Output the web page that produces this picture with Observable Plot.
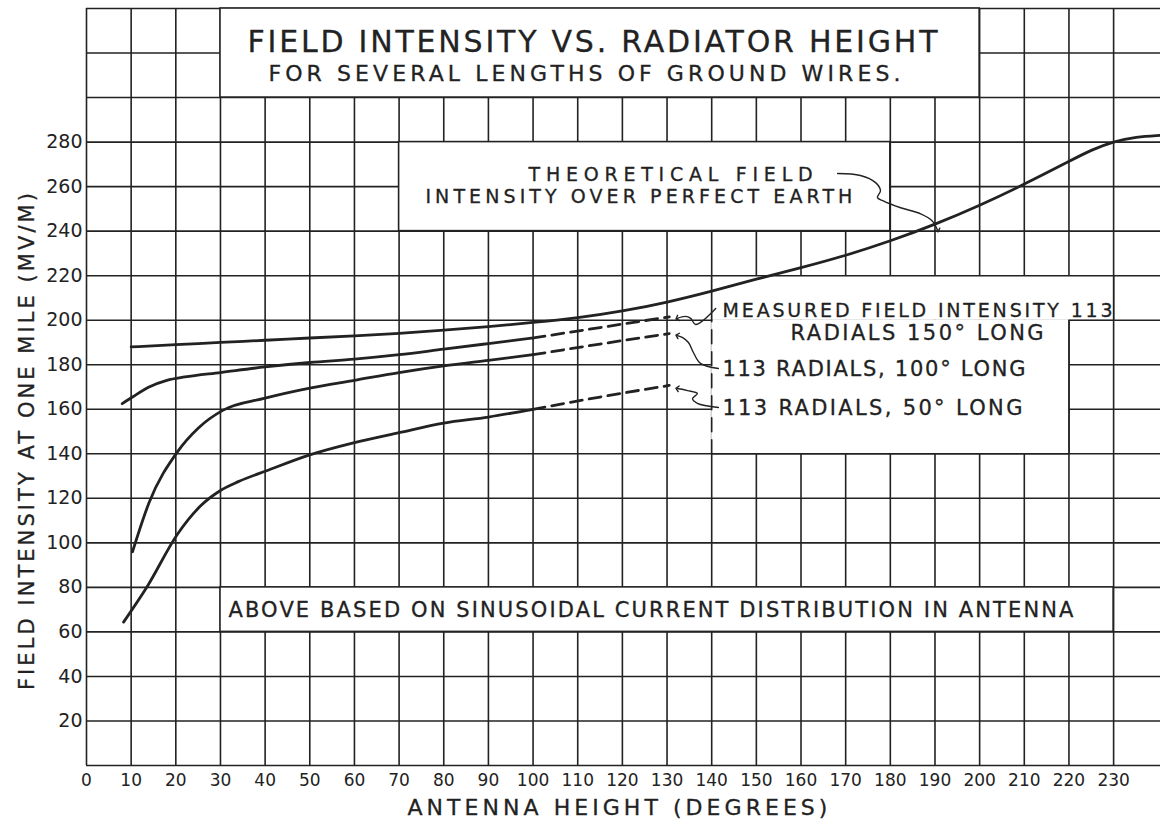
<!DOCTYPE html>
<html><head><meta charset="utf-8">
<script src="https://cdn.jsdelivr.net/npm/d3@7"></script>
<script src="https://cdn.jsdelivr.net/npm/@observablehq/plot@0.6"></script>
<style>
body{margin:0;background:#fff;}
svg text{font-family:"DejaVu Sans",sans-serif;}
</style></head><body><div id="chart"></div>
<script>
// ---- tick labels / grid ----
const xTicks = [0,10,20,30,40,50,60,70,80,90,100,110,120,130,140,150,160,170,180,190,200,210,220,230];
const yTicks = [20,40,60,80,100,120,140,160,180,200,220,240,260,280];
const xGrid = [0,10,20,30,40,50,60,70,80,90,100,110,120,130,140,150,160,170,180,190,200,210,220,230];
const yGrid = [0,20,40,60,80,100,120,140,160,180,200,220,240,260,280,300,320,340];

// ---- series ----
const theoX = [10,20,30,40,50,60,70,80,90,100,110,120,130,140,150,160,170,180,190,200,210,220,225,230,235,240.5];
const theoY = [188,189,190,191,192,193,194,195.5,197,199,201,204,208,213,218.5,223.5,229,235.5,243,251.5,261,271.3,276.5,280.3,282.3,283];

const r150X = [8,10.3,14,18,22,30,40,50,60,70,80,90,100];
const r150Y = [162.5,165.5,170,173,174.5,176.5,179,181,182.5,184.5,187,189.5,192];
const r150DashX = [100,115,130.5];
const r150DashY = [192,196.7,201.5];

const r100X = [10.3,14,20.4,25,30.5,40,50,60,70,80,90,100];
const r100Y = [96,118,141,151.5,159.5,165,169.5,173,176.5,179.5,182,184.5];
const r100DashX = [100,115,130.5];
const r100DashY = [184.5,189.3,194];

const r50X = [8.3,13.6,20.4,25.5,30,34,40.5,50,60,70,80,90,100];
const r50Y = [64.4,80.4,104,116.5,123.5,127.5,132.5,139.5,145,149.5,153.8,156.5,160];
const r50DashX = [100,115,130.5];
const r50DashY = [160,165.5,170.7];

// ---- annotation boxes (data units) ----
const boxes = [
  {x1:30, x2:200, y1:300, y2:340},
  {x1:70, x2:180, y1:240, y2:280},
  {x1:30, x2:230, y1:60,  y2:80},
  {x1:140,x2:230, y1:200, y2:220},
  {x1:140,x2:220, y1:140, y2:200}
];
const lBoxSolid = [[140,200],[140,220],[230,220],[230,200],[220,200],[220,140],[140,140]];
const lBoxDashed = [[140,140],[140,200]];

// ---- leader arrows ----
const arrowTheo = [[168.2,265.9],[173.3,265.0],[176.7,261.8],[177.8,258.2],[177.1,255.1],[178.3,253.7],[182.3,250.5],[186.8,247.8],[189.4,244.6],[190.6,240.3]];
const arrow150 = [[140.9,205.3],[136.4,198.1],[135.3,200.8],[134.1,201.7],[132.3,200.8]];
const arrow100 = [[141.5,178.3],[137.5,180.6],[135.9,185.5],[134.8,190.0],[133.5,192.2],[132.3,193.1]];
const arrow50  = [[141.5,160.8],[136.8,162.6],[135.7,164.8],[136.8,167.1],[134.6,168.4],[132.3,169.3]];

// ---- texts ----
const notes = [
  {text:"FIELD INTENSITY VS. RADIATOR HEIGHT", x:113.3, y:324.7, size:30, w:690, anchor:"middle"},
  {text:"FOR SEVERAL LENGTHS OF GROUND WIRES.", x:111.5, y:310.8, size:22, w:632, anchor:"middle"},
  {text:"THEORETICAL FIELD", x:130.8, y:265.4, size:19, w:284, anchor:"middle"},
  {text:"INTENSITY OVER PERFECT EARTH", x:123.7, y:255.6, size:19, w:427, anchor:"middle"},
  {text:"MEASURED FIELD INTENSITY 113", x:186.1, y:204.4, size:19, w:390, anchor:"middle"},
  {text:"RADIALS 150° LONG", x:186.0, y:194.0, size:21, w:253, anchor:"middle"},
  {text:"113 RADIALS, 100° LONG", x:142.4, y:177.9, size:21, w:303, anchor:"start"},
  {text:"113 RADIALS, 50° LONG", x:142.4, y:160.3, size:21, w:300, anchor:"start"},
  {text:"ABOVE BASED ON SINUSOIDAL CURRENT DISTRIBUTION IN ANTENNA", x:126.4, y:69.6, size:21, w:845, anchor:"middle"},
  {text:"ANTENNA HEIGHT (DEGREES)", x:118.9, y:-18.9, size:22, w:420, anchor:"middle"}
];
const yLabel = {text:"FIELD INTENSITY AT ONE MILE (MV/M)", x:-13.2, y:145.5, size:21, w:497};

const ink = "#222";
const pts = (X, Y) => X.map((x, i) => ({x, y: Y[i]}));
const pp = (arr) => arr.map(([x, y]) => ({x, y}));

const solid = (X, Y, curve = "monotone-x") => Plot.line(pts(X, Y), {x:"x", y:"y", stroke:ink, strokeWidth:2.8, curve});
const dashed = (X, Y) => Plot.line(pts(X, Y), {x:"x", y:"y", stroke:ink, strokeWidth:2.8, curve:"monotone-x", strokeDasharray:"12,7"});
const leader = (arr) => Plot.line(pp(arr), {x:"x", y:"y", stroke:ink, strokeWidth:1.4, curve:"catmull-rom", markerEnd:"arrow"});

const chart = Plot.plot({
  width: 1160, height: 824,
  marginLeft: 86, marginRight: 0, marginTop: 8, marginBottom: 59,
  x: {domain: [0, 240.5]},
  y: {domain: [0, 340]},
  style: {background: "#fff", color: ink, fontFamily: "DejaVu Sans, sans-serif", overflow: "visible"},
  marks: [
    Plot.ruleX(xGrid, {stroke: ink, strokeWidth: 1.6}),
    Plot.ruleY(yGrid, {stroke: ink, strokeWidth: 1.6}),
    Plot.rect(boxes, {x1:"x1", x2:"x2", y1:"y1", y2:"y2", fill:"white"}),
    Plot.rect(boxes.slice(0, 3), {x1:"x1", x2:"x2", y1:"y1", y2:"y2", fill:"none", stroke:ink, strokeWidth:1.6}),
    Plot.line(pp(lBoxSolid), {x:"x", y:"y", stroke:ink, strokeWidth:1.6}),
    Plot.line(pp(lBoxDashed), {x:"x", y:"y", stroke:ink, strokeWidth:1.6, strokeDasharray:"14,8"}),
    solid(theoX, theoY, "basis"),
    solid(r150X, r150Y), dashed(r150DashX, r150DashY),
    solid(r100X, r100Y), dashed(r100DashX, r100DashY),
    solid(r50X, r50Y), dashed(r50DashX, r50DashY),
    leader(arrowTheo), leader(arrow150), leader(arrow100), leader(arrow50),
    ...notes.map(n => Plot.text([n], {x:"x", y:"y", text:"text", fontSize:n.size, textAnchor:n.anchor, fill:ink, stroke:ink, strokeWidth:0.3})),
    Plot.text([yLabel], {x:"x", y:"y", text:"text", fontSize:yLabel.size, rotate:-90, textAnchor:"middle", fill:ink, stroke:ink, strokeWidth:0.3}),
    Plot.axisX({ticks: xTicks, tickSize: 0, tickPadding: 8, fontSize: 17, label: null, tickFormat: d => String(d)}),
    Plot.axisY({ticks: yTicks, tickSize: 0, tickPadding: 4, fontSize: 19, label: null, tickFormat: d => String(d)})
  ]
});

// fit hand-lettered text widths
const widths = new Map([...notes, yLabel].map(n => [n.text, n.w]));
d3.select(chart).selectAll("text").each(function() {
  const w = widths.get(this.textContent);
  if (w) { this.setAttribute("textLength", w); this.setAttribute("lengthAdjust", "spacing"); }
});
document.getElementById("chart").appendChild(chart);
</script></body></html>
